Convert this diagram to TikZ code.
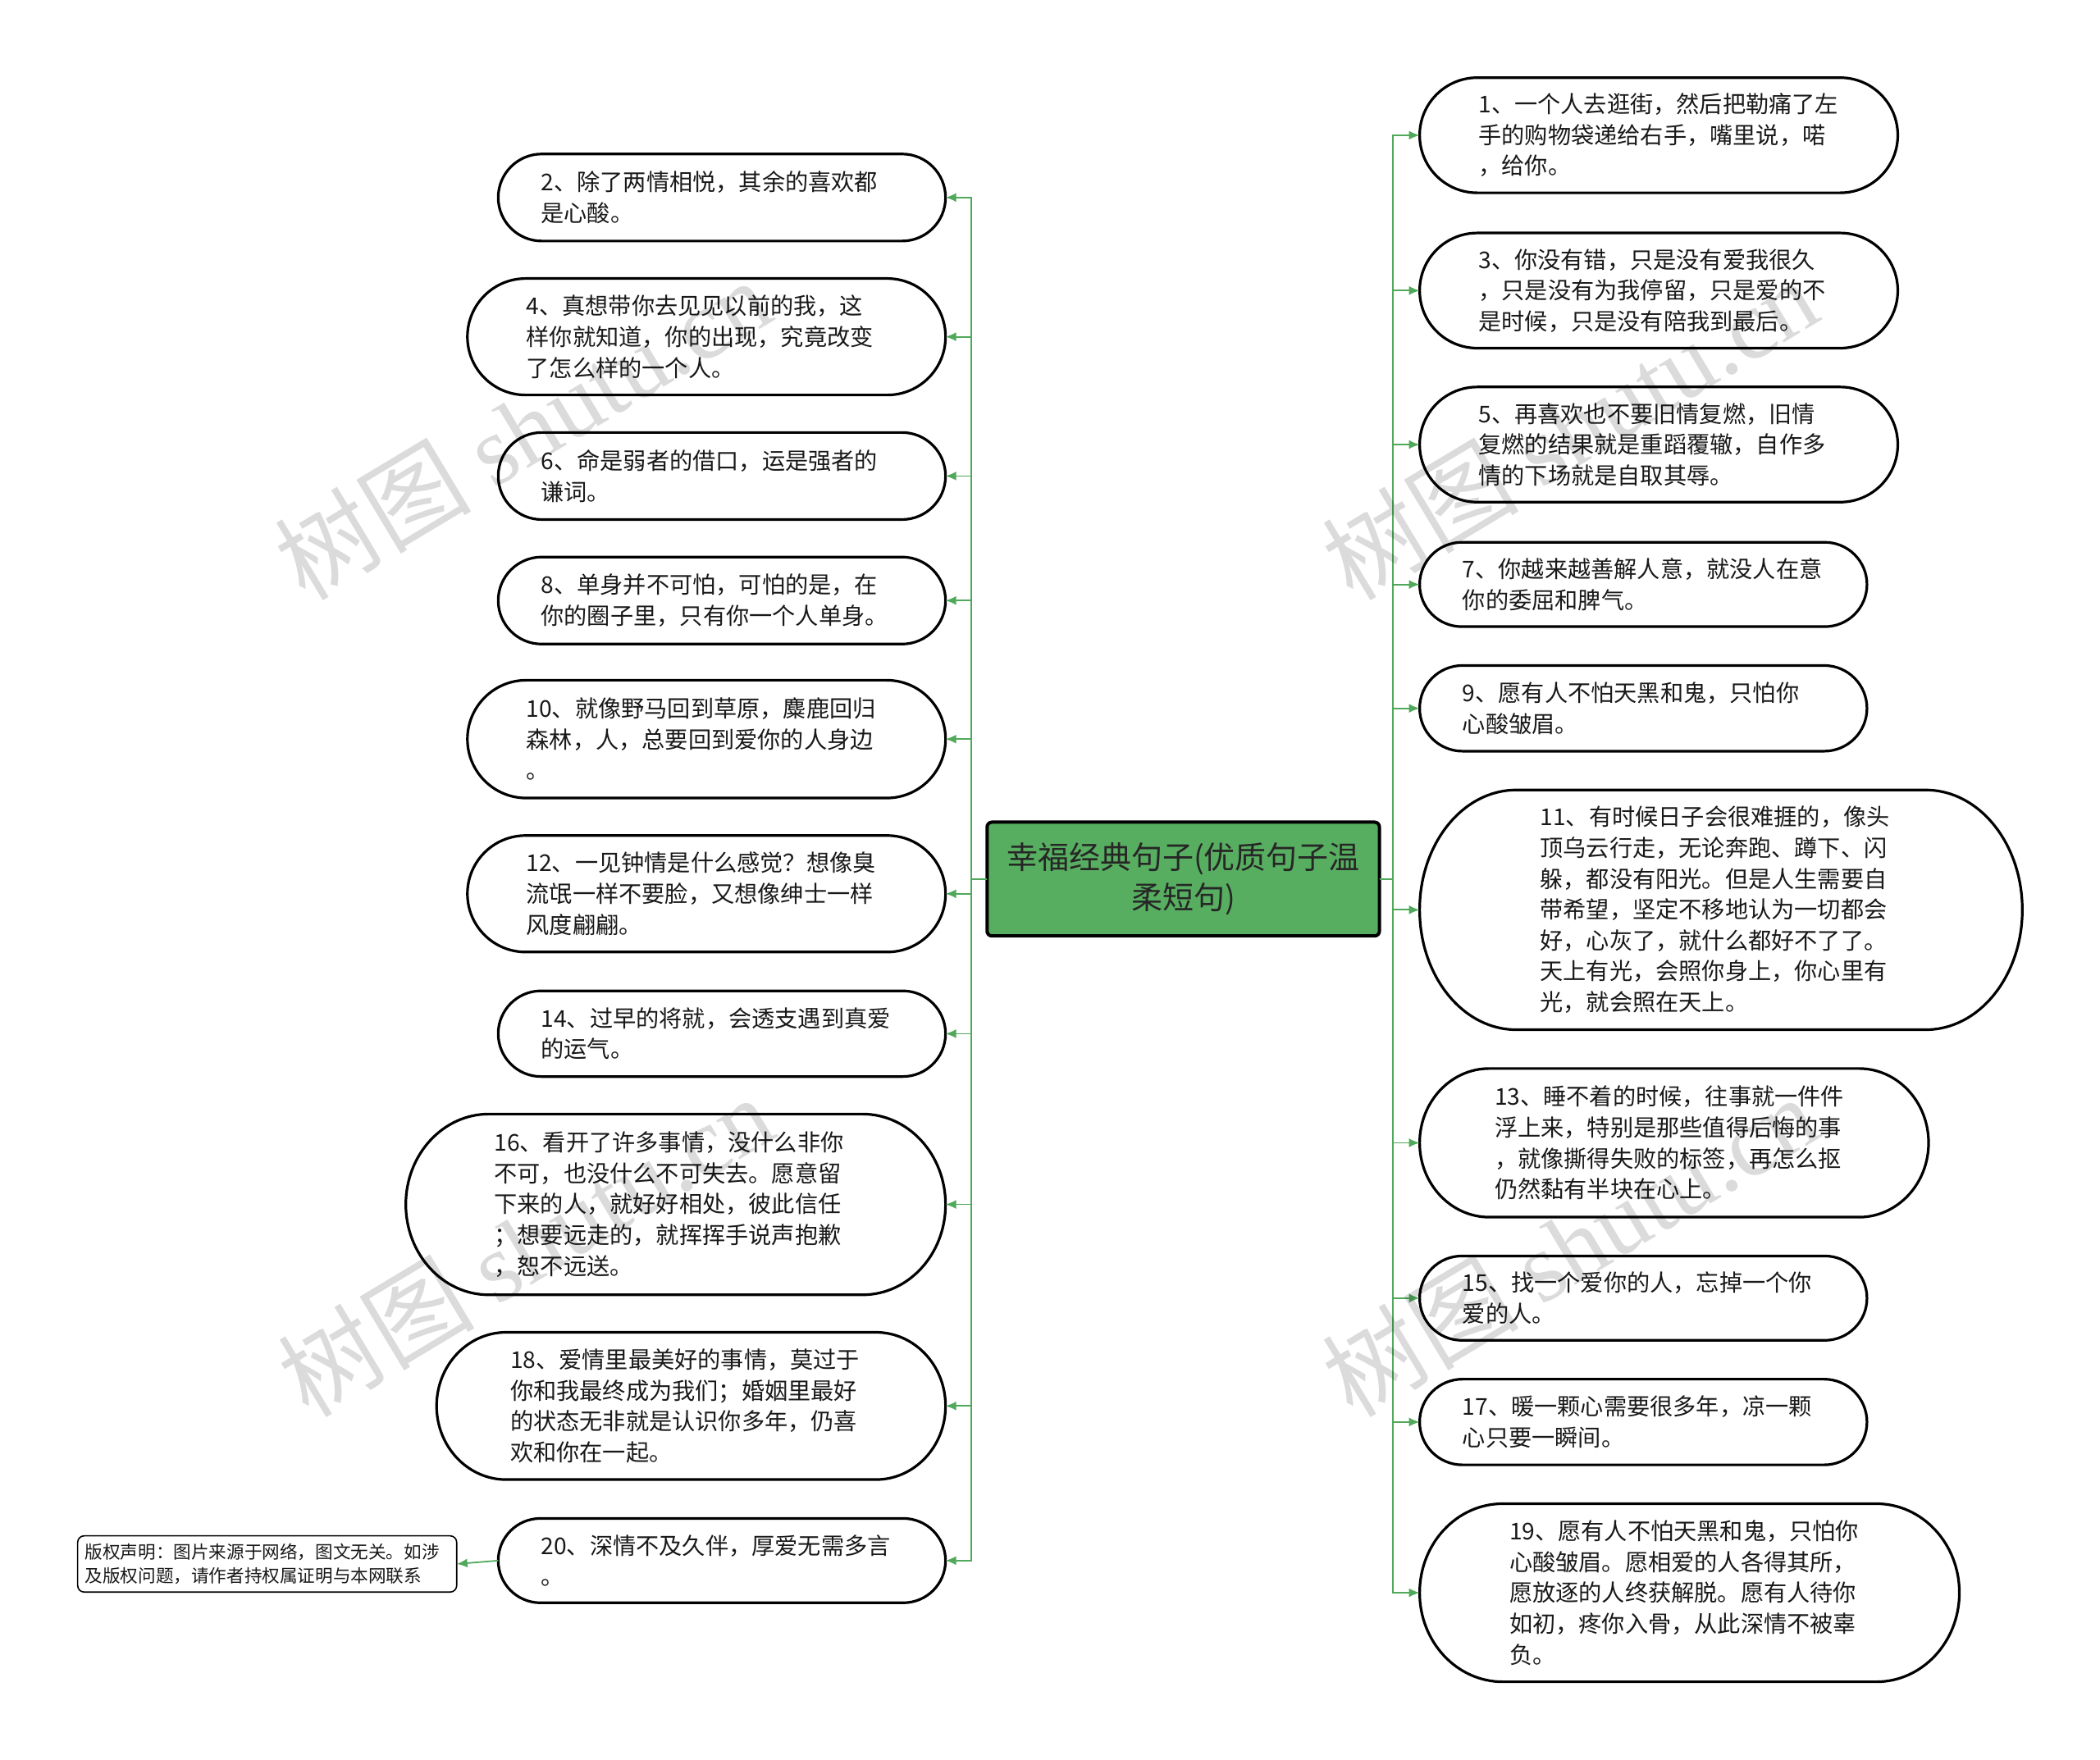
\documentclass[tikz,border=0pt]{standalone}
\usepackage{fontspec}
\setmainfont{Noto Sans CJK SC}
\newfontfamily\wmserif{Liberation Serif}
\usetikzlibrary{arrows.meta,calc}
\definecolor{lgreen}{RGB}{80,168,90}
\definecolor{cgreen}{RGB}{88,174,96}
\definecolor{txtc}{RGB}{25,25,25}
\tikzset{
  bubtxt/.style={inner sep=0pt, outer sep=0pt, align=left, text=txtc,
    font=\fontsize{14.1}{18.8}\selectfont},
  bubline/.style={draw=black, line width=1.6pt},
  central/.style={draw=black, line width=2pt, fill=cgreen, rounded corners=3pt,
    inner sep=0pt, outer sep=0pt, align=center, text=black!85,
    minimum width={293*0.8163pt}, minimum height={85*0.8163pt},
    font=\fontsize{19}{24.5}\selectfont},
  conn/.style={draw=lgreen, line width=0.9pt, -{Latex[length=6.5pt,width=5.5pt]}},
  copybox/.style={draw=black, line width=0.8pt, rounded corners=4pt, inner sep=0pt, outer sep=0pt,
    align=left, text=txtc, font=\fontsize{10.8}{14.7}\selectfont,
    minimum width={283*0.8163pt}, minimum height={42*0.8163pt}, text width={272*0.8163pt}},
  wm/.style={text=black, text opacity=0.14, font=\fontsize{60}{60}\selectfont, inner sep=0pt}
}
% name, x1, y1, x2, y2, rx, textleft, text
\newcommand\bub[8]{%
  \node[bubtxt, minimum width={(#4-#2)*0.8163pt}, minimum height={(#5-#3)*0.8163pt},
    text width={2*((#2+#4)/2-#7)*0.8163pt}] (#1) at ({(#2+#4)/2},{-(#3+#5)/2}) {#8};
  \draw[bubline] ($(#1.north west)+(#6,0)$) -- ($(#1.north east)+(-#6,0)$)
    arc[start angle=90,end angle=-90,x radius=#6,y radius={(#5-#3)/2}]
    -- ($(#1.south west)+(#6,0)$)
    arc[start angle=270,end angle=90,x radius=#6,y radius={(#5-#3)/2}] -- cycle;
}
\begin{document}
\begin{tikzpicture}[x=0.8163pt, y=0.8163pt]
\useasboundingbox (0,0) rectangle (1568,-1314);
\fill[white] (0,0) rectangle (1568,-1314);

\node[central] (c) at (883.5,-656.5) {幸福经典句子(优质句子温\\柔短句)};

% left side
\bub{n2}{372}{115}{706}{180}{32.5}{404}{2、除了两情相悦，其余的喜欢都\\是心酸。}
\bub{n4}{349}{208}{706}{295}{43.5}{393}{4、真想带你去见见以前的我，这\\样你就知道，你的出现，究竟改变\\了怎么样的一个人。}
\bub{n6}{372}{323}{706}{388}{32.5}{404}{6、命是弱者的借口，运是强者的\\谦词。}
\bub{n8}{372}{416}{706}{481}{32.5}{404}{8、单身并不可怕，可怕的是，在\\你的圈子里，只有你一个人单身。}
\bub{n10}{349}{508}{706}{596}{44}{393}{10、就像野马回到草原，麋鹿回归\\森林，人，总要回到爱你的人身边\\。}
\bub{n12}{349}{624}{706}{711}{43.5}{393}{12、一见钟情是什么感觉？想像臭\\流氓一样不要脸，又想像绅士一样\\风度翩翩。}
\bub{n14}{372}{740}{706}{804}{32}{404}{14、过早的将就，会透支遇到真爱\\的运气。}
\bub{n16}{303}{832}{706}{967}{62}{369}{16、看开了许多事情，没什么非你\\不可，也没什么不可失去。愿意留\\下来的人，就好好相处，彼此信任\\；想要远走的，就挥挥手说声抱歉\\，恕不远送。}
\bub{n18}{326}{995}{706}{1105}{52}{381}{18、爱情里最美好的事情，莫过于\\你和我最终成为我们；婚姻里最好\\的状态无非就是认识你多年，仍喜\\欢和你在一起。}
\bub{n20}{372}{1134}{706}{1197}{31.5}{404}{20、深情不及久伴，厚爱无需多言\\。}

\node[copybox] (cp) at (199.5,-1168) {版权声明：图片来源于网络，图文无关。如涉\\及版权问题，请作者持权属证明与本网联系};

% right side
\bub{n1}{1060}{58}{1417}{144}{43}{1104}{1、一个人去逛街，然后把勒痛了左\\手的购物袋递给右手，嘴里说，喏\\，给你。}
\bub{n3}{1060}{174}{1417}{260}{43}{1104}{3、你没有错，只是没有爱我很久\\，只是没有为我停留，只是爱的不\\是时候，只是没有陪我到最后。}
\bub{n5}{1060}{289}{1417}{375}{43}{1104}{5、再喜欢也不要旧情复燃，旧情\\复燃的结果就是重蹈覆辙，自作多\\情的下场就是自取其辱。}
\bub{n7}{1060}{405}{1394}{468}{31.5}{1092}{7、你越来越善解人意，就没人在意\\你的委屈和脾气。}
\bub{n9}{1060}{497}{1394}{561}{32}{1092}{9、愿有人不怕天黑和鬼，只怕你\\心酸皱眉。}
\bub{n11}{1060}{590}{1510}{769}{72}{1150}{11、有时候日子会很难捱的，像头\\顶乌云行走，无论奔跑、蹲下、闪\\躲，都没有阳光。但是人生需要自\\带希望，坚定不移地认为一切都会\\好，心灰了，就什么都好不了了。\\天上有光，会照你身上，你心里有\\光，就会照在天上。}
\bub{n13}{1060}{798}{1440}{909}{52}{1116}{13、睡不着的时候，往事就一件件\\浮上来，特别是那些值得后悔的事\\，就像撕得失败的标签，再怎么抠\\仍然黏有半块在心上。}
\bub{n15}{1060}{938}{1394}{1001}{31.5}{1092}{15、找一个爱你的人，忘掉一个你\\爱的人。}
\bub{n17}{1060}{1030}{1394}{1094}{32}{1092}{17、暖一颗心需要很多年，凉一颗\\心只要一瞬间。}
\bub{n19}{1060}{1123}{1463}{1256}{62}{1127}{19、愿有人不怕天黑和鬼，只怕你\\心酸皱眉。愿相爱的人各得其所，\\愿放逐的人终获解脱。愿有人待你\\如初，疼你入骨，从此深情不被辜\\负。}

% connectors
\coordinate (tl) at (725,-656.5);
\coordinate (tr) at (1040,-656.5);
\foreach \n in {n2,n4,n6,n8,n10,n12,n14,n16,n18,n20}
  \draw[conn] (c.west) -- (tl) |- (\n.east);
\foreach \n in {n1,n3,n5,n7,n9,n11,n13,n15,n17,n19}
  \draw[conn] (c.east) -- (tr) |- (\n.west);
\draw[conn] (n20.west) -- (cp.east);

% watermarks
\node[wm, rotate=31] (w1) at (390,-320) {树图 {\wmserif shutu.cn}};
\node[wm, rotate=31] (w2) at (392,-930) {树图 {\wmserif shutu.cn}};
\node[wm, rotate=31] (w3) at (1172,-320) {树图 {\wmserif shutu.cn}};
\node[wm, rotate=31] (w4) at (1172,-930) {树图 {\wmserif shutu.cn}};
\end{tikzpicture}
\end{document}
